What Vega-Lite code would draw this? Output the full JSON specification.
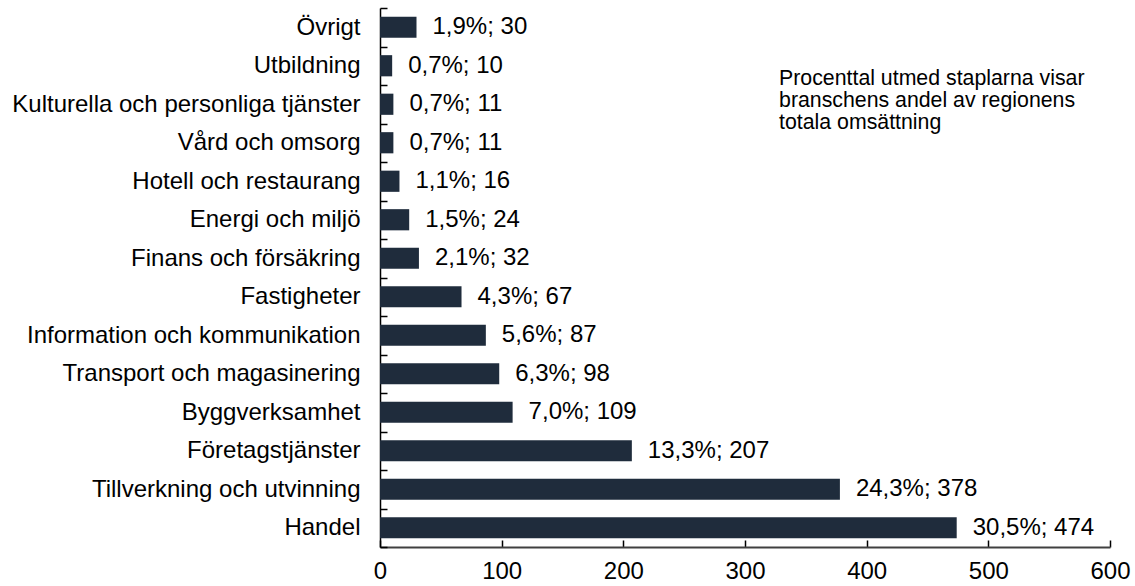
{
  "$schema": "https://vega.github.io/schema/vega-lite/v6.json",
  "autosize": {"type": "none"},
  "width": 730,
  "height": 539,
  "padding": {"left": 380, "top": 8, "right": 25, "bottom": 39},
  "background": "white",
  "config": {
    "view": {"stroke": null},
    "font": "Liberation Sans"
  },
  "datasets": {
    "bars": [
      {"bransch": "Övrigt", "value": 30, "label": "1,9%; 30"},
      {"bransch": "Utbildning", "value": 10, "label": "0,7%; 10"},
      {"bransch": "Kulturella och personliga tjänster", "value": 11, "label": "0,7%; 11"},
      {"bransch": "Vård och omsorg", "value": 11, "label": "0,7%; 11"},
      {"bransch": "Hotell och restaurang", "value": 16, "label": "1,1%; 16"},
      {"bransch": "Energi och miljö", "value": 24, "label": "1,5%; 24"},
      {"bransch": "Finans och försäkring", "value": 32, "label": "2,1%; 32"},
      {"bransch": "Fastigheter", "value": 67, "label": "4,3%; 67"},
      {"bransch": "Information och kommunikation", "value": 87, "label": "5,6%; 87"},
      {"bransch": "Transport och magasinering", "value": 98, "label": "6,3%; 98"},
      {"bransch": "Byggverksamhet", "value": 109, "label": "7,0%; 109"},
      {"bransch": "Företagstjänster", "value": 207, "label": "13,3%; 207"},
      {"bransch": "Tillverkning och utvinning", "value": 378, "label": "24,3%; 378"},
      {"bransch": "Handel", "value": 474, "label": "30,5%; 474"}
    ],
    "note": [
      {"x": 328, "bransch": "Utbildning", "text": ["Procenttal utmed staplarna visar", "branschens andel av regionens", "totala omsättning"]}
    ]
  },
  "layer": [
    {
      "data": {"name": "bars"},
      "mark": {"type": "bar", "color": "#1f2c3c", "height": {"band": 0.55}},
      "encoding": {
        "y": {
          "field": "bransch", "type": "nominal", "sort": null,
          "scale": {"paddingInner": 0, "paddingOuter": 0},
          "axis": {
            "title": null, "labelFontSize": 24, "labelColor": "#000", "labelPadding": 27,
            "tickBand": "extent", "tickSize": -7, "tickColor": "#000", "tickWidth": 1.5,
            "domainColor": "#000", "domainWidth": 1.5, "labelLimit": 500
          }
        },
        "x": {
          "field": "value", "type": "quantitative",
          "scale": {"domain": [0, 600], "nice": false},
          "axis": {
            "title": null, "values": [0, 100, 200, 300, 400, 500, 600], "grid": false,
            "labelFontSize": 24, "labelColor": "#000", "labelPadding": 19,
            "tickSize": -7, "tickColor": "#000", "tickWidth": 1.5,
            "domainColor": "#404040", "domainWidth": 2, "labelFlush": false
          }
        }
      }
    },
    {
      "data": {"name": "bars"},
      "mark": {"type": "text", "align": "left", "baseline": "middle", "dx": 16, "fontSize": 24, "color": "#000"},
      "encoding": {
        "y": {"field": "bransch", "type": "nominal", "sort": null},
        "x": {"field": "value", "type": "quantitative"},
        "text": {"field": "label"}
      }
    },
    {
      "data": {"name": "note"},
      "mark": {"type": "text", "align": "left", "baseline": "top", "dy": 2, "fontSize": 21.3, "lineHeight": 22, "color": "#000"},
      "encoding": {
        "y": {"field": "bransch", "type": "nominal", "sort": null},
        "x": {"field": "x", "type": "quantitative"},
        "text": {"field": "text"}
      }
    }
  ]
}
